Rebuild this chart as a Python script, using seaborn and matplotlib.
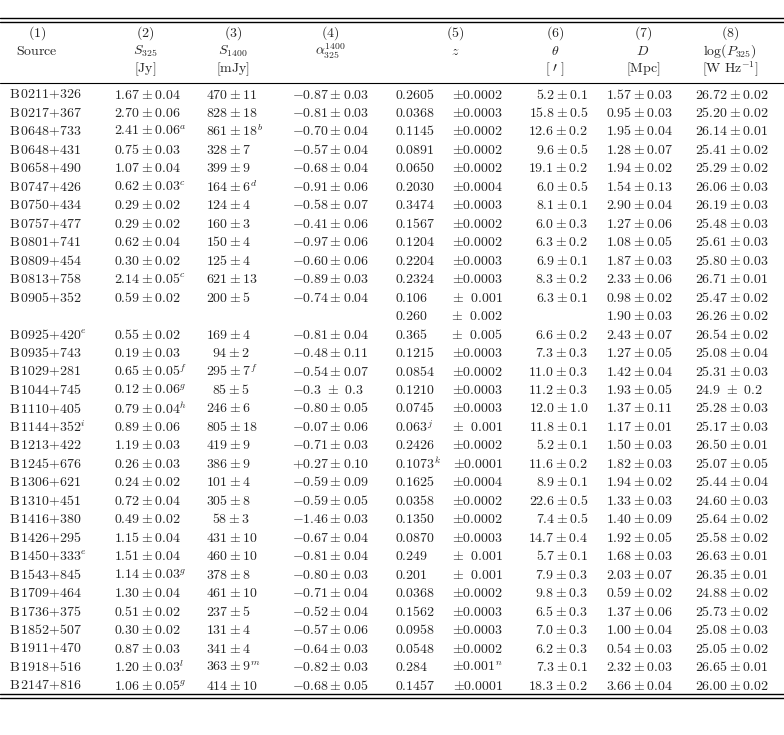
import re
import matplotlib
matplotlib.use("Agg")
import matplotlib.pyplot as plt
import seaborn as sns

sns.set_style("white")
plt.rcParams["mathtext.fontset"] = "cm"
plt.rcParams["font.family"] = ["DejaVu Serif"]

sources = ["0211+326", "0217+367", "0648+733", "0648+431", "0658+490", "0747+426", "0750+434",
           "0757+477", "0801+741", "0809+454", "0813+758", "0905+352", "", "0925+420^e", "0935+743",
           "1029+281", "1044+745", "1110+405", "1144+352^i", "1213+422", "1245+676", "1306+621",
           "1310+451", "1416+380", "1426+295", "1450+333^e", "1543+845", "1709+464", "1736+375",
           "1852+507", "1911+470", "1918+516", "2147+816"]
s325 = ["1.67\\pm0.04", "2.70\\pm0.06", "2.41\\pm0.06^a", "0.75\\pm0.03", "1.07\\pm0.04", "0.62\\pm0.03^c",
        "0.29\\pm0.02", "0.29\\pm0.02", "0.62\\pm0.04", "0.30\\pm0.02", "2.14\\pm0.05^c", "0.59\\pm0.02", "",
        "0.55\\pm0.02", "0.19\\pm0.03", "0.65\\pm0.05^f", "0.12\\pm0.06^g", "0.79\\pm0.04^h", "0.89\\pm0.06",
        "1.19\\pm0.03", "0.26\\pm0.03", "0.24\\pm0.02", "0.72\\pm0.04", "0.49\\pm0.02", "1.15\\pm0.04",
        "1.51\\pm0.04", "1.14\\pm0.03^g", "1.30\\pm0.04", "0.51\\pm0.02", "0.30\\pm0.02", "0.87\\pm0.03",
        "1.20\\pm0.03^l", "1.06\\pm0.05^g"]
s1400 = ["470\\pm11", "828\\pm18", "861\\pm18^b", "328\\pm7", "399\\pm9", "164\\pm6^d", "124\\pm4", "160\\pm3",
         "150\\pm4", "125\\pm4", "621\\pm13", "200\\pm5", "", "169\\pm4", "94\\pm2", "295\\pm7^f", "85\\pm5",
         "246\\pm6", "805\\pm18", "419\\pm9", "386\\pm9", "101\\pm4", "305\\pm8", "58\\pm3", "431\\pm10",
         "460\\pm10", "378\\pm8", "461\\pm10", "237\\pm5", "131\\pm4", "341\\pm4", "363\\pm9^m", "414\\pm10"]
alpha = ["-0.87\\pm0.03", "-0.81\\pm0.03", "-0.70\\pm0.04", "-0.57\\pm0.04", "-0.68\\pm0.04", "-0.91\\pm0.06",
         "-0.58\\pm0.07", "-0.41\\pm0.06", "-0.97\\pm0.06", "-0.60\\pm0.06", "-0.89\\pm0.03", "-0.74\\pm0.04", "",
         "-0.81\\pm0.04", "-0.48\\pm0.11", "-0.54\\pm0.07", "-0.3\\ \\pm\\ 0.3", "-0.80\\pm0.05", "-0.07\\pm0.06",
         "-0.71\\pm0.03", "+0.27\\pm0.10", "-0.59\\pm0.09", "-0.59\\pm0.05", "-1.46\\pm0.03", "-0.67\\pm0.04",
         "-0.81\\pm0.04", "-0.80\\pm0.03", "-0.71\\pm0.04", "-0.52\\pm0.04", "-0.57\\pm0.06", "-0.64\\pm0.03",
         "-0.82\\pm0.03", "-0.68\\pm0.05"]
z_val = ["0.2605", "0.0368", "0.1145", "0.0891", "0.0650", "0.2030", "0.3474", "0.1567", "0.1204", "0.2204",
         "0.2324", "0.106", "0.260", "0.365", "0.1215", "0.0854", "0.1210", "0.0745", "0.063^j", "0.2426",
         "0.1073^k", "0.1625", "0.0358", "0.1350", "0.0870", "0.249", "0.201", "0.0368", "0.1562", "0.0958",
         "0.0548", "0.284", "0.1457"]
z_err = ["\\pm0.0002", "\\pm0.0003", "\\pm0.0002", "\\pm0.0002", "\\pm0.0002", "\\pm0.0004", "\\pm0.0003",
         "\\pm0.0002", "\\pm0.0002", "\\pm0.0003", "\\pm0.0003", "\\pm\\ \\ 0.001", "\\pm\\ \\ 0.002",
         "\\pm\\ \\ 0.005", "\\pm0.0003", "\\pm0.0002", "\\pm0.0003", "\\pm0.0003", "\\pm\\ \\ 0.001",
         "\\pm0.0002", "\\pm0.0001", "\\pm0.0004", "\\pm0.0002", "\\pm0.0002", "\\pm0.0003", "\\pm\\ \\ 0.001",
         "\\pm\\ \\ 0.001", "\\pm0.0002", "\\pm0.0003", "\\pm0.0003", "\\pm0.0002", "\\pm0.001^n", "\\pm0.0001"]
theta = ["5.2\\pm0.1", "15.8\\pm0.5", "12.6\\pm0.2", "9.6\\pm0.5", "19.1\\pm0.2", "6.0\\pm0.5", "8.1\\pm0.1",
         "6.0\\pm0.3", "6.3\\pm0.2", "6.9\\pm0.1", "8.3\\pm0.2", "6.3\\pm0.1", "", "6.6\\pm0.2", "7.3\\pm0.3",
         "11.0\\pm0.3", "11.2\\pm0.3", "12.0\\pm1.0", "11.8\\pm0.1", "5.2\\pm0.1", "11.6\\pm0.2", "8.9\\pm0.1",
         "22.6\\pm0.5", "7.4\\pm0.5", "14.7\\pm0.4", "5.7\\pm0.1", "7.9\\pm0.3", "9.8\\pm0.3", "6.5\\pm0.3",
         "7.0\\pm0.3", "6.2\\pm0.3", "7.3\\pm0.1", "18.3\\pm0.2"]
dist = ["1.57\\pm0.03", "0.95\\pm0.03", "1.95\\pm0.04", "1.28\\pm0.07", "1.94\\pm0.02", "1.54\\pm0.13",
        "2.90\\pm0.04", "1.27\\pm0.06", "1.08\\pm0.05", "1.87\\pm0.03", "2.33\\pm0.06", "0.98\\pm0.02",
        "1.90\\pm0.03", "2.43\\pm0.07", "1.27\\pm0.05", "1.42\\pm0.04", "1.93\\pm0.05", "1.37\\pm0.11",
        "1.17\\pm0.01", "1.50\\pm0.03", "1.82\\pm0.03", "1.94\\pm0.02", "1.33\\pm0.03", "1.40\\pm0.09",
        "1.92\\pm0.05", "1.68\\pm0.03", "2.03\\pm0.07", "0.59\\pm0.02", "1.37\\pm0.06", "1.00\\pm0.04",
        "0.54\\pm0.03", "2.32\\pm0.03", "3.66\\pm0.04"]
logp = ["26.72\\pm0.02", "25.20\\pm0.02", "26.14\\pm0.01", "25.41\\pm0.02", "25.29\\pm0.02", "26.06\\pm0.03",
        "26.19\\pm0.03", "25.48\\pm0.03", "25.61\\pm0.03", "25.80\\pm0.03", "26.71\\pm0.01", "25.47\\pm0.02",
        "26.26\\pm0.02", "26.54\\pm0.02", "25.08\\pm0.04", "25.31\\pm0.03", "24.9\\ \\pm\\ 0.2", "25.28\\pm0.03",
        "25.17\\pm0.03", "26.50\\pm0.01", "25.07\\pm0.05", "25.44\\pm0.04", "24.60\\pm0.03", "25.64\\pm0.02",
        "25.58\\pm0.02", "26.63\\pm0.01", "26.35\\pm0.01", "24.88\\pm0.02", "25.73\\pm0.02", "25.08\\pm0.03",
        "25.05\\pm0.02", "26.65\\pm0.01", "26.00\\pm0.02"]

headers = [("(1)", "\\mathrm{Source}", ""), ("(2)", "S_{325}", "[\\mathrm{Jy}]"),
           ("(3)", "S_{1400}", "[\\mathrm{mJy}]"), ("(4)", "\\alpha_{325}^{1400}", ""), ("(5)", "z", ""),
           ("(6)", "\\theta", "[\\ \\prime\\ ]"), ("(7)", "D", "[\\mathrm{Mpc}]"),
           ("(8)", "\\log(P_{325})", "[\\mathrm{W\\ Hz}^{-1}]")]
head_x = [37, 145, 233, 330, 455, 555, 643, 730]

fig = plt.figure(figsize=(7.84, 7.35), dpi=100)
ax = fig.add_axes([0, 0, 1, 1])
ax.set_xlim(0, 784)
ax.set_ylim(735, 0)
ax.axis("off")

fs = 10
for hx, cells in zip(head_x, headers):
    for hy, t in zip([33, 51, 69], cells):
        if t:
            ax.text(hx, hy, "$" + t + "$", ha="center", va="center", fontsize=fs)

for y, lw in [(18, 1.0), (22, 1.0), (83, 0.8), (694, 1.0), (698, 1.0)]:
    ax.plot([0, 784], [y, y], color="black", lw=lw)


def m(s):
    s = re.sub(r"\^([a-z])", r"^{\\mathit{\1}}", s)
    return "$\\mathrm{" + s + "}$"


y0, dy = 94.5, 18.47
for i in range(len(sources)):
    y = y0 + i * dy
    kw = dict(va="center", fontsize=fs)
    if sources[i]:
        ax.text(9, y, m("B\\," + sources[i].replace("+", "{+}")), ha="left", **kw)
    if s325[i]:
        ax.text(114, y, m(s325[i]), ha="left", **kw)
    if s1400[i]:
        ax.text(206 if len(s1400[i].split("\\pm")[0]) == 3 else 212, y, m(s1400[i]), ha="left", **kw)
    if alpha[i]:
        ax.text(292, y, m(alpha[i]), ha="left", **kw)
    ax.text(395, y, m(z_val[i]), ha="left", **kw)
    ax.text(503, y, m(z_err[i]), ha="right", **kw)
    if theta[i]:
        ax.text(588, y, m(theta[i]), ha="right", **kw)
    ax.text(606, y, m(dist[i]), ha="left", **kw)
    ax.text(695, y, m(logp[i]), ha="left", **kw)

fig.savefig("out.png", dpi=100, facecolor="white")
